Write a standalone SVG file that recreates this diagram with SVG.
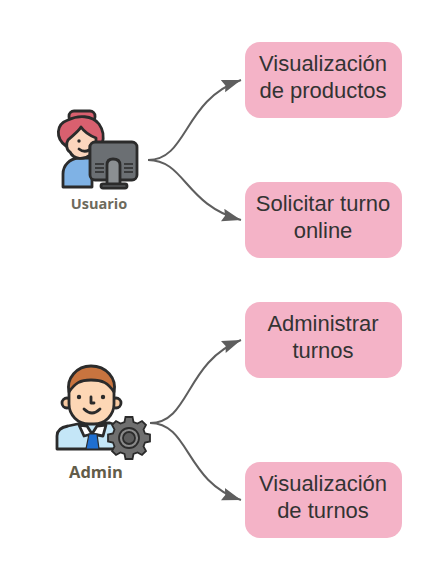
<svg xmlns="http://www.w3.org/2000/svg" width="443" height="580" viewBox="0 0 443 580">
<style>
.box{fill:#f4b3c7}
.t{font-family:"Liberation Sans",Arial,sans-serif;font-size:22px;fill:#333;text-anchor:middle}
.c{fill:none;stroke:#5e5e5e;stroke-width:2}
.lbl{font-family:"Open Sans","DejaVu Sans",sans-serif;font-weight:700;text-anchor:middle}
.o{stroke:#2b2b2b;stroke-width:2.8;stroke-linejoin:round;stroke-linecap:round}
</style>
<defs><marker id="a" markerUnits="userSpaceOnUse" markerWidth="20" markerHeight="14" refX="19" refY="6.5" orient="auto"><path d="M0 0L19 6.5L0 13L2.5 6.5Z" fill="#5e5e5e"/></marker></defs>
<rect width="443" height="580" fill="#fff"/>
<g id="connectors">
<path class="c" marker-end="url(#a)" d="M148 160C188 160 183 100 241 80"/>
<path class="c" marker-end="url(#a)" d="M148 160C185 160 185 205 241 220"/>
<path class="c" marker-end="url(#a)" d="M150 423C190 423 185 362 241 340"/>
<path class="c" marker-end="url(#a)" d="M150 423C190 423 185 482 241 500"/>
</g>
<g id="n1"><rect class="box" x="245" y="42" width="157" height="76" rx="15"/><text class="t" x="323" y="71">Visualización</text><text class="t" x="323" y="98">de productos</text></g>
<g id="n2"><rect class="box" x="245" y="182" width="157" height="76" rx="15"/><text class="t" x="323" y="211">Solicitar turno</text><text class="t" x="323" y="238">online</text></g>
<g id="n3"><rect class="box" x="245" y="302" width="157" height="76" rx="15"/><text class="t" x="323" y="331">Administrar</text><text class="t" x="323" y="358">turnos</text></g>
<g id="n4"><rect class="box" x="245" y="462" width="157" height="76" rx="15"/><text class="t" x="323" y="491">Visualización</text><text class="t" x="323" y="518">de turnos</text></g>
<g id="usuario">
<rect class="o" x="69" y="111" width="26" height="11" rx="5" fill="#d9606f"/>
<path class="o" d="M66 146C55 138 56 124 68 120C78 115 92 115 99 124C104 131 104 138 102 144L90 150Z" fill="#d9606f"/>
<path class="o" d="M63 187V174C63 165 70 159 78 158H92V187Z" fill="#7fb2e5"/>
<path class="o" d="M68 140C72 136 78 132 81 127C85 133 91 136 96 138V146H90V155C84 160 74 160 70 152C66 150 66 143 68 140Z" fill="#fbd5bd"/>
<circle cx="79" cy="141" r="1.7" fill="#2b2b2b"/>
<path class="o" fill="none" d="M79 149Q84 153 89 150"/>
<rect class="o" x="90" y="142" width="47" height="38" rx="5" fill="#6b6f73"/>
<path class="o" d="M107 185V165Q107 159 113 159Q120 159 120 165V185Z" fill="#8b8f92"/>
<rect class="o" x="101" y="184" width="26" height="4" rx="2" fill="#6b6f73"/>
<path stroke="#2b2b2b" stroke-width="1.5" d="M95 164h9M95 168h9M95 172h9M124 164h9M124 168h9M124 172h9"/>
<text class="lbl" x="99" y="209" font-size="14.500" fill="#6d6a5c">Usuario</text>
</g>
<g id="admin">
<path class="o" d="M57 449V436Q57 428 68 426L82 423H110Q120 425 124 432V449Z" fill="#c4e6f7"/>
<path class="o" d="M87 426L92 434L84 436L79 425ZM97 426L92 434L103 436L106 425Z" fill="#fff"/>
<path d="M89 434H97L99 449H86Z" fill="#1f6fd0" stroke="#2b2b2b" stroke-width="1.2"/>
<circle class="o" cx="67" cy="403" r="5" fill="#f8c9a0"/><circle class="o" cx="116" cy="403" r="5" fill="#f8c9a0"/>
<rect class="o" x="69" y="372" width="45" height="52" rx="20" fill="#fdd7b5"/>
<path class="o" d="M69 392C66 378 77 366 91 366C106 366 117 378 114 392C108 383 103 380 91 380C80 380 75 383 69 392Z" fill="#c8743f"/>
<circle cx="79" cy="397" r="2.200" fill="#2b2b2b"/><circle cx="103" cy="397" r="2.200" fill="#2b2b2b"/>
<path class="o" fill="none" d="M91 397V403H94M84 409Q92 417 100 409"/>
<g transform="translate(129 438)">
<g fill="#6f6f6f" stroke="#2b2b2b" stroke-width="1.8">
<path d="M-3.500-21H3.500L4.500-16L8.500-14.500L13-17L17-13L14.500-8.500L16-4.500L21-3.500V3.500L16 4.500L14.500 8.500L17 13L13 17L8.500 14.500L4.500 16L3.500 21H-3.500L-4.500 16L-8.500 14.500L-13 17L-17 13L-14.500 8.500L-16 4.500L-21 3.500V-3.500L-16-4.500L-14.500-8.500L-17-13L-13-17L-8.500-14.500L-4.500-16Z"/>
<circle r="10" fill="#8a8a8a"/><circle r="6" fill="#5d5d5d"/></g>
</g>
<text class="lbl" x="96" y="478" font-size="16.500" fill="#625c49">Admin</text>
</g>
</svg>
